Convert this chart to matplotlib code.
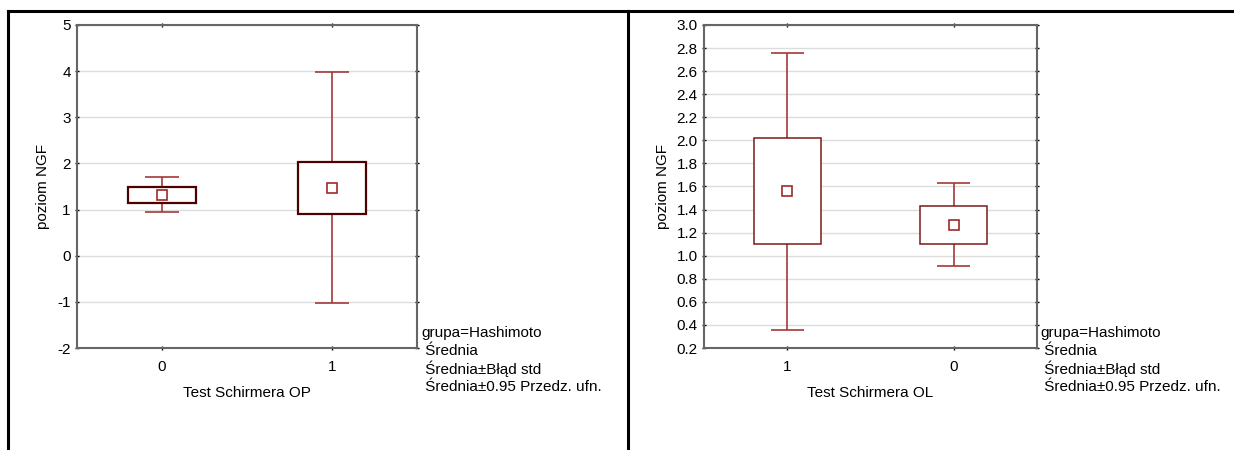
import matplotlib
matplotlib.use('Agg')
import matplotlib.pyplot as plt
import numpy as np
from matplotlib.lines import Line2D

plt.rcParams['font.family'] = ['Liberation Sans', 'DejaVu Sans']

# Test Schirmera OP (lewy wykres)
op_labels = ['0', '1']
op_mean = [1.32, 1.47]
op_se_lo = [1.14, 0.90]
op_se_hi = [1.50, 2.04]
op_ci_lo = [0.95, -1.03]
op_ci_hi = [1.70, 3.98]

# Test Schirmera OL (prawy wykres)
ol_labels = ['1', '0']
ol_mean = [1.56, 1.27]
ol_se_lo = [1.10, 1.10]
ol_se_hi = [2.02, 1.43]
ol_ci_lo = [0.36, 0.91]
ol_ci_hi = [2.76, 1.63]

legend_lines = ['grupa=Hashimoto', ' Średnia', ' Średnia±Błąd std', ' Średnia±0.95 Przedz. ufn.']

whisk_col = '#a33a3a'
mean_col = '#9e2a2a'
fs = 11


def draw_panel(ax, labels, mean, se_lo, se_hi, ci_lo, ci_hi, yticks, xlabel, box_col, box_lw, fmt):
    x = np.arange(len(labels))
    ax.vlines(x, ci_lo, ci_hi, color=whisk_col, lw=1.2, zorder=2)
    ax.hlines(ci_lo, x - 0.1, x + 0.1, color=whisk_col, lw=1.2, zorder=2)
    ax.hlines(ci_hi, x - 0.1, x + 0.1, color=whisk_col, lw=1.2, zorder=2)
    heights = np.array(se_hi) - np.array(se_lo)
    ax.bar(x, heights, bottom=se_lo, width=0.4, facecolor='white',
           edgecolor=box_col, linewidth=box_lw, zorder=3)
    ax.plot(x, mean, 's', ms=7, mfc='white', mec=mean_col, mew=1.2, zorder=4)
    ax.set_xlim(-0.5, 1.5)
    ax.set_ylim(yticks[0], yticks[-1])
    ax.set_yticks(yticks)
    ax.set_yticklabels([fmt.format(v) for v in yticks])
    ax.set_xticks(x)
    ax.set_xticklabels(labels)
    ax.grid(axis='y', color='#dcdcdc', lw=1, zorder=0)
    ax.set_axisbelow(True)
    for s in ax.spines.values():
        s.set_color('#666666')
        s.set_linewidth(1.5)
    ax.tick_params(direction='inout', length=3, width=1, labelsize=fs,
                   top=True, right=True, pad=3)
    ax.tick_params(axis='x', pad=7)
    ax.set_ylabel('poziom NGF', fontsize=fs, labelpad=5)
    ax.set_xlabel(xlabel, fontsize=fs, labelpad=9)


fig = plt.figure(figsize=(12.34, 4.5), dpi=100)

ax1 = fig.add_axes([77 / 1234, 1 - 348 / 450, 340 / 1234, 323 / 450])
draw_panel(ax1, op_labels, op_mean, op_se_lo, op_se_hi, op_ci_lo, op_ci_hi,
           list(range(-2, 6)), 'Test Schirmera OP', '#4d0000', 1.6, '{:d}')

ax2 = fig.add_axes([704 / 1234, 1 - 348 / 450, 333 / 1234, 323 / 450])
draw_panel(ax2, ol_labels, ol_mean, ol_se_lo, ol_se_hi, ol_ci_lo, ol_ci_hi,
           list(np.round(np.arange(0.2, 3.01, 0.2), 1)), 'Test Schirmera OL', '#7a1a1a', 1.1, '{:.1f}')

# legenda tekstowa
for x0 in [421 / 1234, 1040 / 1234]:
    for i, t in enumerate(legend_lines):
        fig.text(x0, 1 - (333 + 18 * i) / 450, t, fontsize=fs, va='center', ha='left')

# ramka
fw = 2.2
fig.add_artist(Line2D([8 / 1234, 1], [1 - 11 / 450, 1 - 11 / 450], color='black', lw=fw))
fig.add_artist(Line2D([8 / 1234, 8 / 1234], [0, 1 - 11 / 450], color='black', lw=fw))
fig.add_artist(Line2D([628 / 1234, 628 / 1234], [0, 1 - 11 / 450], color='black', lw=fw))

fig.savefig('out.png', dpi=100)
